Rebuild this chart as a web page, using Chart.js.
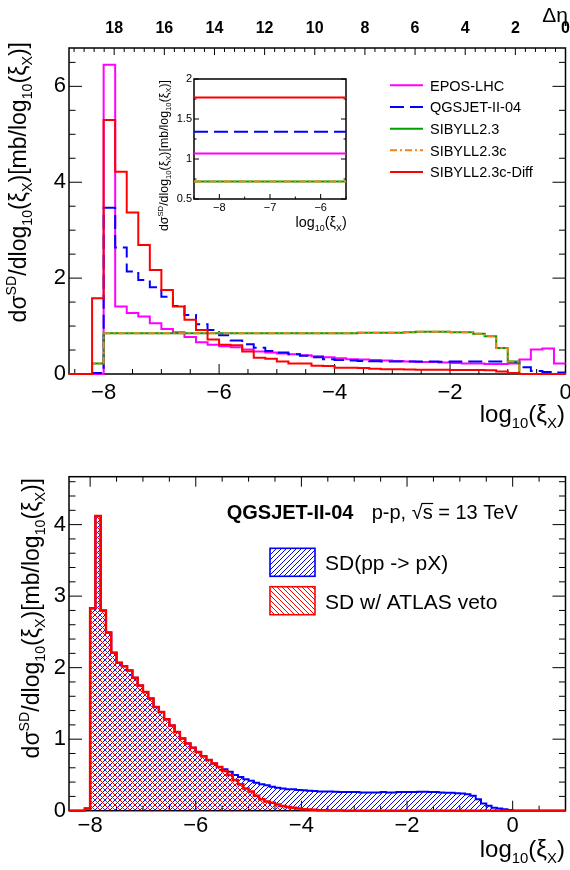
<!DOCTYPE html>
<html><head><meta charset="utf-8">
<script src="https://cdn.jsdelivr.net/npm/chart.js@4.4.1/dist/chart.umd.min.js"></script>
<style>
html,body{margin:0;padding:0;background:#fff;}
#wrap{position:relative;width:570px;height:870px;overflow:hidden;}
canvas{position:absolute;}
</style></head><body>
<div id="wrap">
<canvas id="c1" width="570" height="435" style="left:0;top:0"></canvas>
<canvas id="c3" width="220" height="175" style="left:140px;top:68px"></canvas>
<canvas id="c2" width="570" height="435" style="left:0;top:435px"></canvas>
</div>
<script>
// ================= DATA =================
// Top panel: bin edges (log10 xi_X) and bin contents per model
const topEdges = [-8.6,-8.4,-8.2,-8.0,-7.8,-7.6,-7.4,-7.2,-7.0,-6.8,-6.6,-6.4,-6.2,-6.0,-5.8,-5.6,-5.4,-5.2,-5.0,-4.8,-4.6,-4.4,-4.2,-4.0,-3.8,-3.6,-3.4,-3.2,-3.0,-2.8,-2.6,-2.4,-2.2,-2.0,-1.8,-1.6,-1.4,-1.2,-1.0,-0.8,-0.6,-0.4,-0.2,0.0];
const eposLHC = [0,0,0,6.45,1.41,1.27,1.20,1.06,0.94,0.87,0.77,0.66,0.61,0.58,0.56,0.51,0.47,0.45,0.43,0.41,0.39,0.37,0.35,0.33,0.31,0.30,0.29,0.28,0.27,0.26,0.25,0.25,0.24,0.23,0.22,0.22,0.21,0.21,0.22,0.30,0.51,0.53,0.22];
const qgsjet = [0,0,0.02,3.47,2.64,2.14,1.96,1.81,1.61,1.42,1.23,1.04,0.92,0.81,0.70,0.62,0.55,0.48,0.45,0.41,0.38,0.35,0.31,0.29,0.28,0.27,0.265,0.26,0.26,0.26,0.26,0.26,0.255,0.26,0.26,0.26,0.26,0.26,0.25,0.14,0.06,0.04,0.03];
const sibyll23 = [0,0,0.22,0.85,0.85,0.85,0.85,0.85,0.85,0.85,0.85,0.85,0.85,0.85,0.85,0.85,0.85,0.85,0.85,0.85,0.85,0.85,0.85,0.85,0.85,0.86,0.86,0.86,0.86,0.87,0.88,0.88,0.88,0.87,0.87,0.84,0.79,0.54,0.26,0,0,0,0];
const sibyll23c = [0,0,0.22,0.85,0.85,0.85,0.85,0.85,0.85,0.85,0.85,0.85,0.85,0.85,0.85,0.85,0.85,0.85,0.85,0.85,0.85,0.85,0.85,0.85,0.85,0.86,0.86,0.86,0.86,0.87,0.88,0.88,0.88,0.87,0.87,0.84,0.79,0.54,0.26,0,0,0,0];
const sibyll23cDiff = [0,0,1.58,5.30,4.22,3.37,2.69,2.17,1.75,1.41,1.13,0.92,0.72,0.61,0.60,0.47,0.34,0.32,0.26,0.22,0.22,0.17,0.165,0.13,0.13,0.125,0.11,0.10,0.10,0.095,0.09,0.09,0.09,0.085,0.085,0.085,0.08,0.05,0.02,0,0,0,0];
const topXTicks = [-8,-6,-4,-2,0];
const topYTicks = [0,2,4,6];
const etaTicks = [18,16,14,12,10,8,6,4,2,0];
const modelNames = ['EPOS-LHC','QGSJET-II-04','SIBYLL2.3','SIBYLL2.3c','SIBYLL2.3c-Diff'];

// Inset: constant levels per model
const insetX = [-8.5,-5.5];
const insetLevels = [1.07,1.34,0.72,0.72,1.77];
const insetXTicks = [-8,-7,-6];
const insetYTicks = [0.5,1,1.5,2];

// Bottom panel: QGSJET-II-04 SD and SD with ATLAS veto
const botEdges = [-8.4,-8.3,-8.2,-8.1,-8.0,-7.9,-7.8,-7.7,-7.6,-7.5,-7.4,-7.3,-7.2,-7.1,-7.0,-6.9,-6.8,-6.7,-6.6,-6.5,-6.4,-6.3,-6.2,-6.1,-6.0,-5.9,-5.8,-5.7,-5.6,-5.5,-5.4,-5.3,-5.2,-5.1,-5.0,-4.9,-4.8,-4.7,-4.6,-4.5,-4.4,-4.3,-4.2,-4.1,-4.0,-3.9,-3.8,-3.7,-3.6,-3.5,-3.4,-3.3,-3.2,-3.1,-3.0,-2.9,-2.8,-2.7,-2.6,-2.5,-2.4,-2.3,-2.2,-2.1,-2.0,-1.9,-1.8,-1.7,-1.6,-1.5,-1.4,-1.3,-1.2,-1.1,-1.0,-0.9,-0.8,-0.7,-0.6,-0.5,-0.4,-0.3,-0.2,-0.1,0.0,0.1,0.2,0.3,0.4,0.5,0.6,0.7,0.8,0.9,1.0];
const sdAll = [0,0,0,0.03,2.83,4.12,2.80,2.49,2.21,2.07,
 2.02,1.96,1.86,1.75,1.66,1.57,1.45,1.38,1.28,1.19,
 1.10,1.01,0.94,0.88,0.82,0.76,0.71,0.66,0.61,0.58,
 0.545,0.50,0.47,0.44,0.42,0.39,0.37,0.355,0.335,0.32,
 0.31,0.30,0.30,0.29,0.285,0.28,0.275,0.27,0.27,0.27,
 0.265,0.26,0.26,0.26,0.26,0.255,0.255,0.255,0.255,0.26,
 0.255,0.255,0.26,0.26,0.26,0.26,0.265,0.265,0.26,0.26,
 0.255,0.25,0.25,0.245,0.24,0.23,0.21,0.16,0.10,0.07,
 0.04,0.03,0.02,0.01,0,0,0,0,0,0,
 0,0,0,0];
const sdVeto = [0,0,0,0.03,2.83,4.12,2.80,2.49,2.21,2.07,
 2.02,1.96,1.86,1.75,1.66,1.57,1.45,1.38,1.28,1.19,
 1.10,1.01,0.94,0.88,0.82,0.76,0.71,0.66,0.61,0.555,
 0.50,0.43,0.37,0.31,0.27,0.21,0.16,0.13,0.11,0.085,
 0.065,0.05,0.04,0.03,0.022,0.016,0.012,0.008,0.006,0.004,
 0.003,0.002,0.001,0,0,0,0,0,0,0,
 0,0,0,0,0,0,0,0,0,0,
 0,0,0,0,0,0,0,0,0,0,
 0,0,0,0,0,0,0,0,0,0,
 0,0,0,0];
const botXTicks = [-8,-6,-4,-2,0];
const botYTicks = [0,1,2,3,4];
const botLegend = ['SD(pp -> pX)','SD w/ ATLAS veto'];

// ================= HELPERS =================
const FF = '"Liberation Sans", Arial, Helvetica, sans-serif';
const fmtMinus = v => (v < 0 ? '\u2212' + String(Math.abs(v)) : String(v));
function minors(min, max, step, majors){
  const out = []; const n = Math.round((max - min) / step);
  for (let i = 0; i <= n; i++){ const v = +(min + i*step).toFixed(6);
    if (!majors.some(m => Math.abs(m - v) < 1e-6)) out.push(v); }
  return out;
}
function histPoints(edges, vals){
  const pts = vals.map((v,i) => ({x: edges[i], y: v}));
  pts.push({x: edges[vals.length], y: vals[vals.length-1]});
  return pts;
}
const xTitleSegs = [{t:'log'},{t:'10',k:'sub'},{t:'(\u03BE'},{t:'X',k:'sub'},{t:')'}];
const yTitleSegs = [{t:'d\u03C3'},{t:'SD',k:'sup'},{t:'/dlog'},{t:'10',k:'sub'},{t:'(\u03BE'},{t:'X',k:'sub'},{t:')[mb/log'},{t:'10',k:'sub'},{t:'(\u03BE'},{t:'X',k:'sub'},{t:')]'}];
function segFont(s, F){ return `${s.k ? F*0.62 : F}px ${FF}`; }
function drawRich(ctx, segs, x, y, F, align, rot){
  ctx.save(); ctx.translate(x, y); if (rot) ctx.rotate(rot);
  let w = 0; for (const s of segs){ ctx.font = segFont(s,F); w += ctx.measureText(s.t).width; }
  let cx = align === 'right' ? -w : (align === 'center' ? -w/2 : 0);
  ctx.fillStyle = '#000'; ctx.textBaseline = 'alphabetic'; ctx.textAlign = 'left';
  for (const s of segs){ ctx.font = segFont(s,F);
    const dy = s.k === 'sub' ? F*0.27 : (s.k === 'sup' ? -F*0.42 : 0);
    ctx.fillText(s.t, cx, dy); cx += ctx.measureText(s.t).width; }
  ctx.restore();
}
function decor(specs, extra){
  return { id: 'decor',
    beforeDatasetsDraw(chart){
      const {ctx, chartArea: a} = chart; ctx.save(); ctx.strokeStyle = '#000'; ctx.lineWidth = 1;
      for (const sp of specs){ const sc = chart.scales[sp.scale];
        const draw = (v, len) => { const p = sc.getPixelForValue(v); ctx.beginPath();
          if (sp.side === 'bottom'){ ctx.moveTo(p, a.bottom); ctx.lineTo(p, a.bottom - len); }
          else if (sp.side === 'top'){ ctx.moveTo(p, a.top); ctx.lineTo(p, a.top + len); }
          else if (sp.side === 'left'){ ctx.moveTo(a.left, p); ctx.lineTo(a.left + len, p); }
          else { ctx.moveTo(a.right, p); ctx.lineTo(a.right - len, p); }
          ctx.stroke(); };
        sp.major.forEach(v => draw(v, sp.majLen)); sp.minor.forEach(v => draw(v, sp.minLen));
      }
      ctx.lineWidth = 1.5; ctx.strokeRect(a.left, a.top, a.right - a.left, a.bottom - a.top);
      ctx.restore();
    },
    afterDraw(chart){ if (extra){ chart.ctx.save(); extra(chart.ctx, chart); chart.ctx.restore(); } }
  };
}
function linAxis(o){
  return Object.assign({ type: 'linear',
    grid: {display: false, drawTicks: false}, border: {display: false},
    ticks: {font: {family: FF, size: o.fs || 22, weight: o.bold ? 'bold' : 'normal'}, color: '#000', padding: o.pad,
      maxRotation: 0, minRotation: 0, autoSkip: false, callback: o.fmt || fmtMinus},
    afterBuildTicks: s => { s.ticks = o.tickVals.map(v => ({value: v})); },
    afterFit: s => { if (o.w !== undefined) s.width = o.w; if (o.h !== undefined) s.height = o.h;
      s.paddingLeft = 0; s.paddingRight = 0; s.paddingTop = 0; s.paddingBottom = 0; }
  }, o.extra || {});
}
const base = { responsive: false, animation: false, devicePixelRatio: 1, events: [],
  plugins: {legend: {display: false}, tooltip: {enabled: false}} };

// ================= TOP PANEL =================
const topStyles = [
  {color: '#ff00ff', dash: []},
  {color: '#0000ff', dash: [14, 6]},
  {color: '#00a000', dash: []},
  {color: '#f08020', dash: [7, 3, 2, 3]},
  {color: '#ff0000', dash: []}
];
const topData = [eposLHC, qgsjet, sibyll23, sibyll23c, sibyll23cDiff];
const ETA_MAX = 8.6 * Math.LN10;

new Chart(document.getElementById('c1'), Object.assign({}, base, {
  type: 'line',
  data: { datasets: topData.map((vals, i) => ({
    label: modelNames[i], data: histPoints(topEdges, vals), stepped: true,
    borderColor: topStyles[i].color, borderDash: topStyles[i].dash, borderWidth: 2,
    pointRadius: 0, fill: false, clip: 3, order: 4 - i, xAxisID: 'x', yAxisID: 'y'
  })) },
  options: Object.assign({}, base, {
    layout: {padding: {left: 0, right: 4.5, top: 0, bottom: 0}},
    scales: {
      x: linAxis({tickVals: topXTicks, pad: 5.5, h: 61, extra: {position: 'bottom', min: -8.6, max: 0}}),
      x2: linAxis({tickVals: etaTicks, pad: 9.5, h: 48, fs: 16, bold: true, fmt: v => String(v),
        extra: {position: 'top', min: 0, max: ETA_MAX, reverse: true}}),
      y: linAxis({tickVals: topYTicks, pad: 3, w: 69, extra: {position: 'left', min: 0, max: 6.8}})
    }
  }),
  plugins: [decor([
    {scale: 'x', side: 'bottom', major: topXTicks, minor: minors(-8.5, 0, 0.5, topXTicks), majLen: 10, minLen: 5},
    {scale: 'x2', side: 'top', major: etaTicks, minor: minors(0, 19.6, 0.4, etaTicks), majLen: 7, minLen: 4},
    {scale: 'y', side: 'left', major: topYTicks, minor: minors(0, 6.5, 0.5, topYTicks), majLen: 13, minLen: 6.5},
    {scale: 'y', side: 'right', major: topYTicks, minor: minors(0, 6.5, 0.5, topYTicks), majLen: 13, minLen: 6.5}
  ], (ctx) => {
    drawRich(ctx, xTitleSegs, 565, 422, 24, 'right');
    drawRich(ctx, yTitleSegs, 26, 42, 23, 'right', -Math.PI/2);
    ctx.fillStyle = '#000'; ctx.font = `21px ${FF}`; ctx.textAlign = 'right'; ctx.textBaseline = 'alphabetic';
    ctx.fillText('\u0394\u03B7', 568, 22);
    // legend
    ctx.textAlign = 'left'; ctx.font = `14.5px ${FF}`;
    modelNames.forEach((n, i) => {
      const y = 85.3 + i * 21.67;
      ctx.strokeStyle = topStyles[i].color; ctx.setLineDash(topStyles[i].dash); ctx.lineWidth = 2;
      ctx.beginPath(); ctx.moveTo(390, y); ctx.lineTo(423, y); ctx.stroke();
      ctx.setLineDash([]); ctx.fillStyle = '#000'; ctx.fillText(n, 430, y + 5.4);
    });
  })]
}));

// ================= INSET =================
new Chart(document.getElementById('c3'), Object.assign({}, base, {
  type: 'line',
  data: { datasets: insetLevels.map((lv, i) => ({
    label: modelNames[i], data: insetX.map(x => ({x: x, y: lv})),
    borderColor: topStyles[i].color, borderDash: topStyles[i].dash, borderWidth: 2,
    pointRadius: 0, fill: false, clip: 2, order: 4 - i
  })) },
  options: Object.assign({}, base, {
    layout: {padding: {left: 0, right: 14, top: 11, bottom: 0}},
    scales: {
      x: linAxis({tickVals: insetXTicks, pad: 2.4, h: 44, fs: 11, extra: {position: 'bottom', min: -8.5, max: -5.5}}),
      y: linAxis({tickVals: insetYTicks, pad: 2, w: 54, fs: 11, fmt: v => String(v), extra: {position: 'left', min: 0.5, max: 2}})
    }
  }),
  plugins: [decor([
    {scale: 'x', side: 'bottom', major: insetXTicks, minor: minors(-8.5, -5.5, 0.5, insetXTicks), majLen: 5, minLen: 2.5},
    {scale: 'y', side: 'left', major: insetYTicks, minor: minors(0.5, 2, 0.25, insetYTicks), majLen: 5, minLen: 2.5},
    {scale: 'y', side: 'right', major: insetYTicks, minor: minors(0.5, 2, 0.25, insetYTicks), majLen: 5, minLen: 2.5}
  ], (ctx) => {
    drawRich(ctx, xTitleSegs, 206.7, 158.7, 14.4, 'right');
    drawRich(ctx, yTitleSegs, 28, 12, 12.4, 'right', -Math.PI/2);
  })]
}));

// ================= BOTTOM PANEL =================
function hatchPattern(ctx, color, dir){
  const s = 5, c = document.createElement('canvas'); c.width = s; c.height = s;
  const g = c.getContext('2d'); g.fillStyle = color;
  for (let i = 0; i < s; i++){ const y = dir === '/' ? s - 1 - i : i; g.fillRect(i, y, 1, 1); }
  return ctx.createPattern(c, 'repeat');
}
const c2 = document.getElementById('c2');
const c2ctx = c2.getContext('2d');
const blueHatch = hatchPattern(c2ctx, '#0000ff', '/');
const redHatch = hatchPattern(c2ctx, '#ff0000', '\\');

new Chart(c2, Object.assign({}, base, {
  type: 'line',
  data: { datasets: [
    {label: botLegend[1], data: histPoints(botEdges, sdVeto), stepped: true, borderColor: '#ff0000', borderWidth: 2.5,
      backgroundColor: redHatch, fill: 'origin', pointRadius: 0, clip: 3, order: 0},
    {label: botLegend[0], data: histPoints(botEdges, sdAll), stepped: true, borderColor: '#0000ff', borderWidth: 2,
      backgroundColor: blueHatch, fill: 'origin', pointRadius: 0, clip: 3, order: 1}
  ] },
  options: Object.assign({}, base, {
    layout: {padding: {left: 0, right: 4.5, top: 41.7, bottom: 0}},
    scales: {
      x: linAxis({tickVals: botXTicks, pad: 2.1, h: 59.3, extra: {position: 'bottom', min: -8.4, max: 1}}),
      y: linAxis({tickVals: botYTicks, pad: 3, w: 69, extra: {position: 'left', min: 0, max: 4.67}})
    }
  }),
  plugins: [decor([
    {scale: 'x', side: 'bottom', major: botXTicks, minor: minors(-8, 1, 0.5, botXTicks), majLen: 10, minLen: 5},
    {scale: 'x', side: 'top', major: botXTicks, minor: minors(-8, 1, 0.5, botXTicks), majLen: 10, minLen: 5},
    {scale: 'y', side: 'left', major: botYTicks, minor: minors(0, 4.6, 0.2, botYTicks), majLen: 13, minLen: 6.5},
    {scale: 'y', side: 'right', major: botYTicks, minor: minors(0, 4.6, 0.2, botYTicks), majLen: 13, minLen: 6.5}
  ], (ctx) => {
    drawRich(ctx, xTitleSegs, 565, 422, 24, 'right');
    drawRich(ctx, yTitleSegs, 39, 43, 23, 'right', -Math.PI/2);
    ctx.fillStyle = '#000'; ctx.textBaseline = 'alphabetic'; ctx.textAlign = 'left';
    ctx.font = `bold 20px ${FF}`; ctx.fillText('QGSJET-II-04', 226.7, 84);
    ctx.font = `20px ${FF}`;
    let x = 371.7; const y = 84;
    ctx.fillText('p-p, ', x, y); x += ctx.measureText('p-p, ').width;
    ctx.fillText('\u221A', x, y); x += ctx.measureText('\u221A').width;
    const ws = ctx.measureText('s').width;
    ctx.fillText('s', x, y);
    ctx.strokeStyle = '#000'; ctx.lineWidth = 1.2; ctx.beginPath(); ctx.moveTo(x - 1, y - 15.5); ctx.lineTo(x + ws + 0.5, y - 15.5); ctx.stroke();
    x += ws; ctx.fillText(' = 13 TeV', x, y);
    // legend
    const boxes = [{y: 113.3, pat: blueHatch, col: '#0000ff'}, {y: 151.7, pat: redHatch, col: '#ff0000'}];
    boxes.forEach((b, i) => {
      ctx.fillStyle = b.pat; ctx.fillRect(270, b.y, 45, 28);
      ctx.strokeStyle = b.col; ctx.lineWidth = 1.6; ctx.strokeRect(270, b.y, 45, 28);
      ctx.fillStyle = '#000'; ctx.font = `21px ${FF}`; ctx.fillText(botLegend[i], 325, b.y + 21.8);
    });
  })]
}));
</script>
</body></html>
